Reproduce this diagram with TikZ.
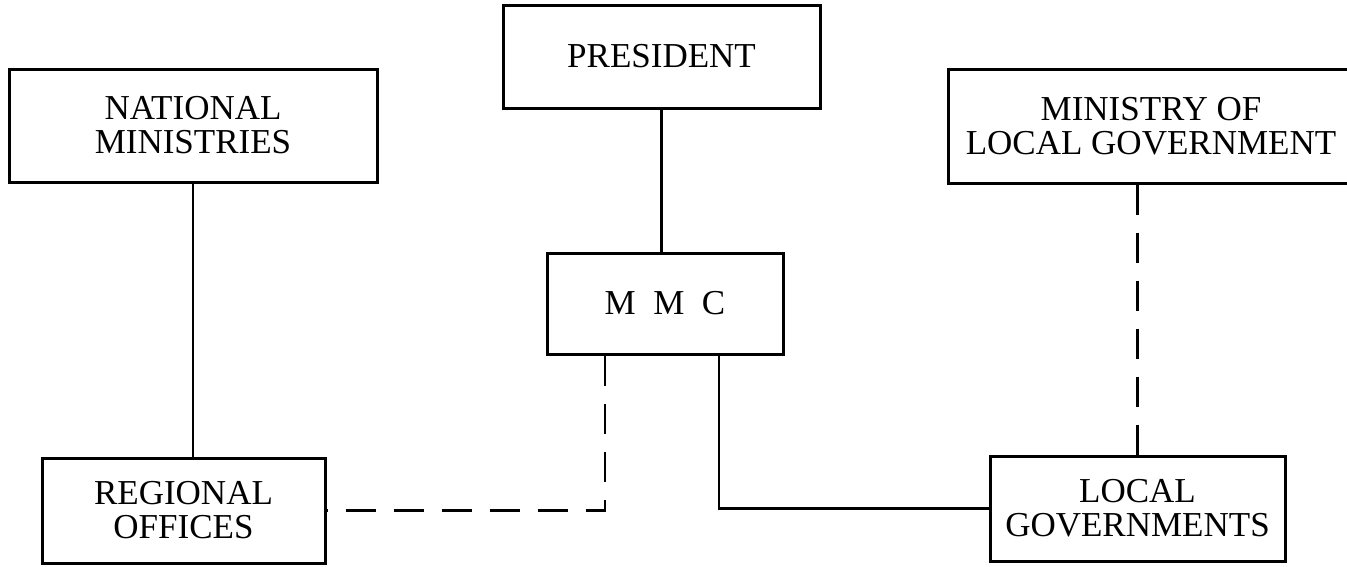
\documentclass[tikz,border=0pt]{standalone}
\usepackage{fontspec}
\setmainfont{Liberation Serif}
\usetikzlibrary{calc}
\tikzset{
  unitbox/.style={draw, line width=3pt, align=center, inner sep=0pt,
    font=\fontsize{35}{34}\selectfont},
  linkline/.style={line width=2.6pt},
  looseline/.style={line width=2.6pt, dash pattern=on 30pt off 18pt},
}
\begin{document}
\begin{tikzpicture}[x=1pt, y=-1pt]
      \useasboundingbox (0,0) rectangle (1347,566);

      \node[unitbox, minimum width=368pt, minimum height=113pt] at (193,125.5) (natmin) {NATIONAL\\MINISTRIES};
      \node[unitbox, minimum width=317pt, minimum height=103pt] at (661.5,56.5) (pres) {PRESIDENT};
      \node[unitbox, minimum width=406pt, minimum height=114pt] at (1151,126) (mlg) {MINISTRY OF\\LOCAL GOVERNMENT};
      \node[unitbox, minimum width=236pt, minimum height=101pt] at (665,303.5) (mmc) {M\hspace{0.5em}M\hspace{0.5em}C};
      \node[unitbox, minimum width=283pt, minimum height=105pt] at (183.5,510.5) (ro) {REGIONAL\\OFFICES};
      \node[unitbox, minimum width=295pt, minimum height=105pt] at (1137.5,508.5) (lg) {LOCAL\\GOVERNMENTS};

      \draw[linkline] (natmin.south) -- (natmin.south |- ro.north);
      \draw[linkline] (pres.south) -- (pres.south |- mmc.north);
      \draw[looseline] (lg.north |- mlg.south) -- (lg.north);

      \draw[looseline] ([xshift=-60pt]mmc.south) |- (ro.east);
      \draw[linkline] ([xshift=54pt]mmc.south) |- (lg.west);

      % \node at (665,420) (note) {};
\end{tikzpicture}
\end{document}
